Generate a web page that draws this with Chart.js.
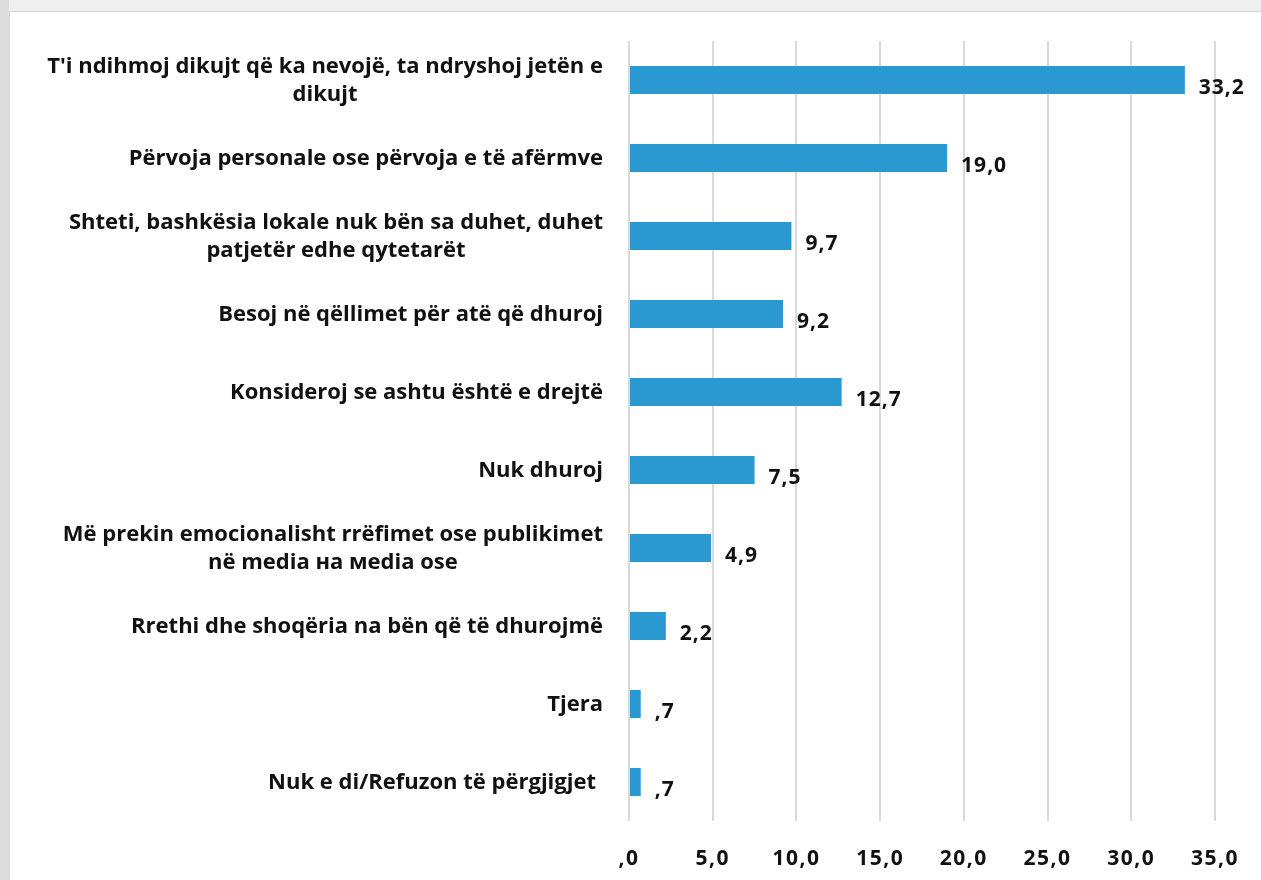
<!DOCTYPE html>
<html>
<head>
<meta charset="utf-8">
<script src="https://cdn.jsdelivr.net/npm/chart.js@4.4.0/dist/chart.umd.min.js"></script>
<style>
  html, body { margin: 0; padding: 0; width: 1261px; height: 880px; overflow: hidden; background: #efefef; }
  #leftband { position: absolute; left: 0; top: 0; width: 9px; height: 880px; background: #dcdcdc; }
  #panel { position: absolute; left: 9px; top: 11px; width: 1252px; height: 869px; background: #ffffff;
           box-shadow: inset 1px 1px 0 #d6d6d6; }
  canvas { display: block; }
</style>
</head>
<body>
<div id="leftband"></div>
<div id="panel"><canvas id="c" width="1252" height="869"></canvas></div>
<script>
const categories = [
  ["T'i ndihmoj dikujt që ka nevojë, ta ndryshoj jetën e", "dikujt"],
  ["Përvoja personale ose përvoja e të afërmve"],
  ["Shteti, bashkësia lokale nuk bën sa duhet, duhet", "patjetër edhe qytetarët"],
  ["Besoj në qëllimet për atë që dhuroj"],
  ["Konsideroj se ashtu është e drejtë"],
  ["Nuk dhuroj"],
  ["Më prekin emocionalisht rrëfimet ose publikimet", "në media на мedia ose"],
  ["Rrethi dhe shoqëria na bën që të dhurojmë"],
  ["Tjera"],
  ["Nuk e di/Refuzon të përgjigjet "]
];
const values = [33.2, 19.0, 9.7, 9.2, 12.7, 7.5, 4.9, 2.2, 0.7, 0.7];
const xTicks = [0, 5, 10, 15, 20, 25, 30, 35];

const FONT = "'Open Sans', 'DejaVu Sans', sans-serif";
function fmt(v) {
  let s = Number(v).toFixed(1).replace('.', ',');
  if (s.startsWith('0,')) s = s.substring(1);
  return s;
}

const spacingPlugin = {
  id: 'spacing',
  beforeDraw(chart) { chart.ctx.letterSpacing = '1.5px'; }
};

const labelPlugin = {
  id: 'labels',
  afterDraw(chart) {
    const ctx = chart.ctx;
    const yScale = chart.scales.y;
    ctx.save();
    ctx.letterSpacing = '0px';
    ctx.fillStyle = '#111111';
    ctx.font = "bold 22px " + FONT;
    ctx.textBaseline = 'middle';
    const rightEdge = 594;
    const lh = 28;
    categories.forEach((lines, i) => {
      const yc = yScale.getPixelForValue(i);
      const widths = lines.map(l => ctx.measureText(l.trimEnd()).width);
      const bw = Math.max(...widths);
      const trail = lines[0].endsWith(' ') ? 7 : 0;
      const cx = rightEdge - trail - bw / 2;
      ctx.textAlign = 'center';
      lines.forEach((l, k) => {
        const y = yc + 1 + (k - (lines.length - 1) / 2) * lh;
        ctx.fillText(l.trimEnd(), cx, y);
      });
    });
    // value labels
    const meta = chart.getDatasetMeta(0);
    ctx.letterSpacing = '1px';
    ctx.font = "bold 21px " + FONT;
    ctx.textAlign = 'left';
    meta.data.forEach((bar, i) => {
      ctx.fillText(fmt(values[i]), bar.x + 14, bar.y + 8);
    });
    ctx.restore();
  }
};

new Chart(document.getElementById('c'), {
  type: 'bar',
  data: {
    labels: categories.map(c => c.join(' ')),
    datasets: [{
      data: values,
      backgroundColor: '#2a98d1',
      borderWidth: 0,
      barPercentage: 0.36,
      categoryPercentage: 1.0
    }]
  },
  options: {
    indexAxis: 'y',
    responsive: false,
    animation: false,
    layout: { padding: { top: 30, right: 43, left: 0, bottom: 0 } },
    plugins: { legend: { display: false }, tooltip: { enabled: false } },
    scales: {
      x: {
        min: 0, max: 35,
        afterBuildTicks(scale) { scale.ticks = xTicks.map(v => ({ value: v })); },
        afterFit(scale) { scale.height = 59; },
        grid: { color: '#d9d9d9', lineWidth: 2, drawTicks: false },
        border: { display: false },
        ticks: {
          padding: 25,
          color: '#111111',
          font: { family: FONT, size: 21, weight: 'bold' },
          callback: v => fmt(v)
        }
      },
      y: {
        afterFit(scale) { scale.width = 620; },
        grid: { display: false },
        border: { display: false },
        ticks: { display: false }
      }
    }
  },
  plugins: [spacingPlugin, labelPlugin]
});
</script>
</body>
</html>
